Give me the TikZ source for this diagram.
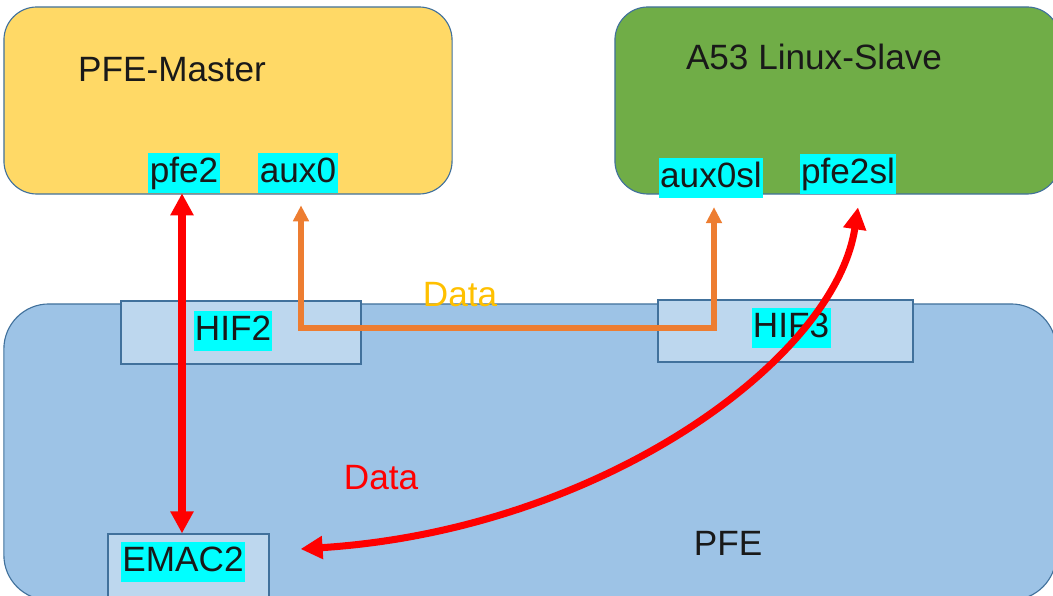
\documentclass[tikz,border=0pt]{standalone}
\usepackage{fontspec}
\setmainfont{Liberation Sans}
\usetikzlibrary{arrows.meta}
\definecolor{masterfill}{HTML}{FFD966}
\definecolor{slavefill}{HTML}{70AD47}
\definecolor{pfefill}{HTML}{9DC3E6}
\definecolor{hiffill}{HTML}{BDD7EE}
\definecolor{boxline}{HTML}{41719C}
\definecolor{portfill}{HTML}{00FFFF}
\definecolor{auxline}{HTML}{ED7D31}
\definecolor{datagold}{HTML}{FFC000}
\begin{document}
\begin{tikzpicture}[x=0.025cm,y=-0.025cm,
  every node/.style={font=\fontsize{25}{30}\selectfont, text=black!90},
  bigbox/.style args={#1/#2}{rectangle, rounded corners=#2, draw=boxline, line width=0.8pt, fill=#1, inner sep=0pt},
  hifbox/.style={rectangle, draw=boxline, line width=0.8pt, fill=hiffill, inner sep=0pt},
  port/.style={fill=portfill, inner xsep=1pt, inner ysep=2pt, text height=19pt, text depth=5.5pt},
  redarrow/.style={draw=red, line width=5pt, {Triangle[length=0.55cm,width=0.55cm]}-{Triangle[length=0.55cm,width=0.55cm]}},
  auxarrow/.style={draw=auxline, line width=3.8pt, {Triangle[length=0.4cm,width=0.38cm]}-{Triangle[length=0.4cm,width=0.38cm]}}]
\useasboundingbox (0,0) rectangle (1053,596);
\clip (0,0) rectangle (1053,596);
% boxes
\node (master) [bigbox=masterfill/0.825cm, minimum width=11.2cm, minimum height=4.675cm] at (228,100.5) {};
\node (slave) [bigbox=slavefill/0.825cm, minimum width=11.125cm, minimum height=4.675cm] at (837.5,100.5) {};
\node (pfe) [bigbox=pfefill/1.125cm, minimum width=26.3cm, minimum height=7.4cm] at (530,452) {};
\node (hif2box) [hifbox, minimum width=6cm, minimum height=1.575cm] at (241,332.5) {};
\node (hif3box) [hifbox, minimum width=6.375cm, minimum height=1.55cm] at (785.5,331) {};
\node (emacbox) [hifbox, minimum width=4.025cm, minimum height=1.9cm] at (188.5,572) {};
% titles
\node (mastertxt) at (172,70) {PFE-Master};
\node (slavetxt) at (814,57) {A53 Linux-Slave};
\node (pfetxt) at (728,543) {PFE};
\node (data1) [text=datagold] at (460,295) {Data};
\node (data2) [text=red] at (381,478) {Data};
% ports
\foreach \nm/\txt/\pos in {pfe2/pfe2/{(184,173)}, aux0/aux0/{(298,173)}, aux0sl/aux0sl/{(711,178)}, pfe2sl/pfe2sl/{(848,174)}, hif2/HIF2/{(233,331)}, hif3/HIF3/{(791,328)}, emac2/EMAC2/{(183,562)}}
\node (\nm) [port] at \pos {\txt};
% data paths
\coordinate (mid) at (500,328);
\draw[auxarrow, shorten <=0.3cm, shorten >=0.22cm] ([xshift=0.075cm]aux0.south) |- (mid) -| ([xshift=0.075cm]aux0sl.south);
\draw[redarrow] ([xshift=-0.05cm]pfe2.south) -- ([xshift=-0.05cm]pfe2.south |- emacbox.north);
\draw[redarrow] ([shift={(10,13)}]pfe2sl.south) .. controls (835,360) and (600,530) .. ([shift={(31,-23)}]emacbox.east);
\end{tikzpicture}
\end{document}
